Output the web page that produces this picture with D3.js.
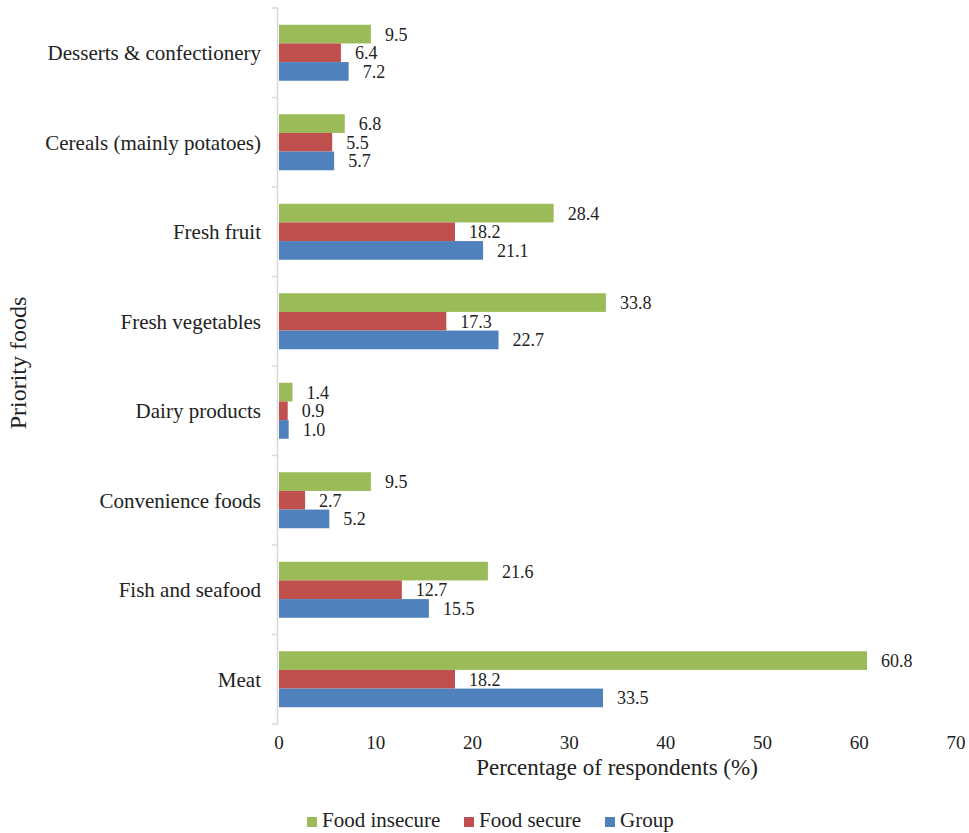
<!DOCTYPE html>
<html lang="en">
<head>
  <meta charset="UTF-8">
  <title>Priority foods</title>
  <style>
    body { margin: 0; background: #fff; }
    svg text { font-family: "Liberation Serif", "Times New Roman", serif; fill: #222; }
  </style>
</head>
<body>
  <svg width="969" height="833"></svg>
  <script src="https://cdn.jsdelivr.net/npm/d3@7"></script>
  <script>
    // data (top to bottom as shown)
    var categories = ["Desserts & confectionery", "Cereals (mainly potatoes)", "Fresh fruit", "Fresh vegetables",
      "Dairy products", "Convenience foods", "Fish and seafood", "Meat"];
    var seriesNames = ["Food insecure", "Food secure", "Group"];
    var foodInsecure = [9.5, 6.8, 28.4, 33.8, 1.4, 9.5, 21.6, 60.8];
    var foodSecure = [6.4, 5.5, 18.2, 17.3, 0.9, 2.7, 12.7, 18.2];
    var group = [7.2, 5.7, 21.1, 22.7, 1.0, 5.2, 15.5, 33.5];
    var xTicks = [0, 10, 20, 30, 40, 50, 60, 70];
    var colors = ["#9BBB59", "#C0504D", "#4F81BD"];

    var svg = d3.select("svg");
    var plotLeft = 279, plotRight = 956, plotTop = 8, plotBottom = 724;

    var x = d3.scaleLinear().domain([0, 70]).range([plotLeft, plotRight]);
    var y = d3.scaleBand().domain(categories).range([plotTop, plotBottom]);
    var inner = d3.scaleBand().domain(seriesNames).range([0, 56]);
    var innerOff = (y.bandwidth() - 56) / 2;

    var rows = categories.map(function (c, i) {
      return { cat: c, vals: [foodInsecure[i], foodSecure[i], group[i]] };
    });

    // y axis line + ticks at band boundaries
    var ax = svg.append("g");
    ax.append("line").attr("x1", plotLeft - 1.5).attr("x2", plotLeft - 1.5)
      .attr("y1", plotTop).attr("y2", plotBottom).attr("stroke", "#d9d9d9").attr("stroke-width", 1.5);
    ax.selectAll("line.tk").data(d3.range(categories.length + 1)).enter().append("line")
      .attr("class", "tk")
      .attr("x1", plotLeft - 7).attr("x2", plotLeft - 1)
      .attr("y1", function (d) { return plotTop + d * y.step(); })
      .attr("y2", function (d) { return plotTop + d * y.step(); })
      .attr("stroke", "#d9d9d9").attr("stroke-width", 1.5);

    // category labels
    svg.selectAll("text.cat").data(categories).enter().append("text")
      .attr("class", "cat")
      .attr("x", 261)
      .attr("y", function (d) { return y(d) + y.bandwidth() / 2; })
      .attr("dy", "0.35em")
      .attr("text-anchor", "end")
      .attr("font-size", 21)
      .text(function (d) { return d; });

    // bars
    var g = svg.selectAll("g.row").data(rows).enter().append("g")
      .attr("class", "row")
      .attr("transform", function (d) { return "translate(0," + (y(d.cat) + innerOff) + ")"; });

    g.selectAll("rect").data(function (d) { return d.vals; }).enter().append("rect")
      .attr("x", x(0))
      .attr("y", function (d, i) { return inner(seriesNames[i]); })
      .attr("width", function (d) { return x(d) - x(0); })
      .attr("height", inner.bandwidth())
      .attr("fill", function (d, i) { return colors[i]; });

    g.selectAll("text").data(function (d) { return d.vals; }).enter().append("text")
      .attr("x", function (d) { return x(d) + 14; })
      .attr("y", function (d, i) { return inner(seriesNames[i]) + inner.bandwidth() / 2; })
      .attr("dy", "0.36em")
      .attr("font-size", 18)
      .text(function (d) { return d.toFixed(1); });

    // x tick labels
    svg.selectAll("text.xt").data(xTicks).enter().append("text")
      .attr("class", "xt")
      .attr("x", function (d) { return x(d); })
      .attr("y", 749)
      .attr("text-anchor", "middle")
      .attr("font-size", 19)
      .text(function (d) { return d; });

    // axis titles
    svg.append("text").attr("x", 617).attr("y", 775).attr("text-anchor", "middle")
      .attr("font-size", 23).text("Percentage of respondents (%)");
    svg.append("text").attr("transform", "translate(26,363) rotate(-90)")
      .attr("text-anchor", "middle").attr("font-size", 24).text("Priority foods");

    // legend
    var legX = [307, 464, 605];
    var leg = svg.selectAll("g.leg").data(seriesNames).enter().append("g")
      .attr("class", "leg")
      .attr("transform", function (d, i) { return "translate(" + legX[i] + ",827)"; });
    leg.append("rect").attr("x", 0).attr("y", -10).attr("width", 10).attr("height", 10)
      .attr("fill", function (d, i) { return colors[i]; });
    leg.append("text").attr("x", 15).attr("font-size", 21)
      .text(function (d) { return d; });
  </script>
</body>
</html>
